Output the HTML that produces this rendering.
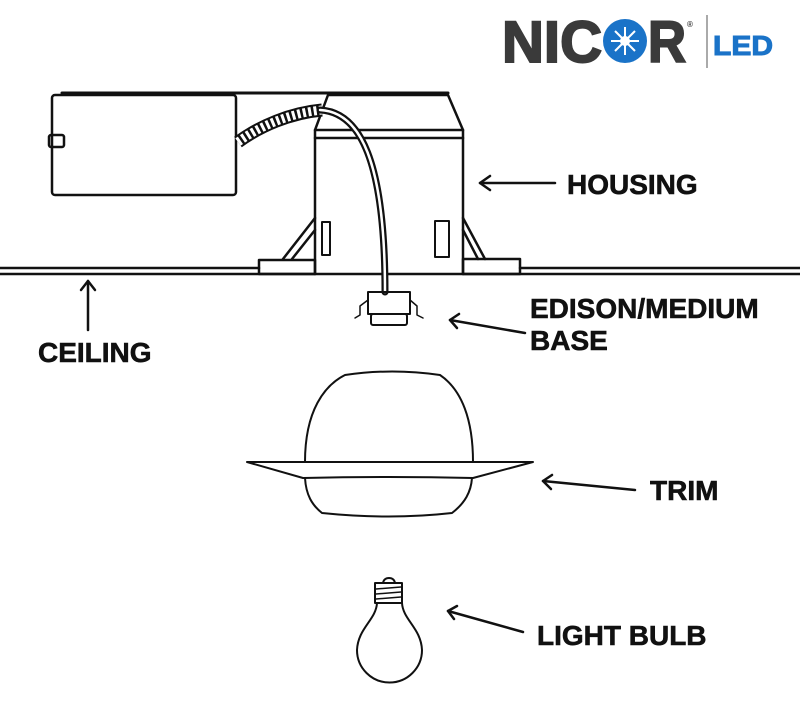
<!DOCTYPE html>
<html><head><style>
html,body{margin:0;padding:0;background:#fff;}
svg{display:block;}
text{font-family:"Liberation Sans",Arial,sans-serif;font-weight:bold;}
</style></head><body>
<svg width="800" height="725" viewBox="0 0 800 725" xmlns="http://www.w3.org/2000/svg">
<g fill="none" stroke="#111" stroke-width="2.5" stroke-linejoin="round" stroke-linecap="round">
<line x1="0" y1="268" x2="259" y2="268"/><line x1="0" y1="274" x2="800" y2="274"/>
<line x1="520" y1="268" x2="800" y2="268"/>
<rect x="52" y="95" width="184" height="100" rx="3"/>
<rect x="49" y="135" width="15" height="12" rx="2"/>
<line x1="62" y1="93" x2="448" y2="93" stroke-width="3"/>
<polyline points="315,274 315,130 328,95 448,95 463,130 463,274"/>
<line x1="315" y1="138" x2="463" y2="138"/>
<line x1="315" y1="130" x2="463" y2="130"/>
<rect x="259" y="260" width="56" height="14"/>
<rect x="463" y="259" width="57" height="15"/>
<polyline points="283,259 315,218"/><polyline points="292,259 315,230"/>
<polyline points="463,218 485,259"/><polyline points="463,230 478,259"/>
<rect x="322" y="222" width="8" height="33" stroke-width="2"/>
<rect x="435" y="221" width="14" height="36" stroke-width="2"/>
<path d="M238,142 C260,126 290,113 322,110" stroke-width="13" stroke-linecap="butt"/>
<path d="M238,142 C260,126 290,113 322,110" stroke="#fff" stroke-width="9" stroke-dasharray="3 2.5" stroke-linecap="butt"/>
<path d="M320,110 C360,112 385,160 385,292" stroke-width="7"/>
<path d="M320,110 C360,112 385,160 385,292" stroke="#fff" stroke-width="2.5"/>
<rect x="368" y="292" width="42" height="22" stroke-width="2"/>
<rect x="371" y="314" width="36" height="11" rx="2" stroke-width="2"/>
<path d="M368,300 L360,306 L360,315 L355,318" stroke-width="1.5"/>
<path d="M410,300 L417,306 L417,315 L423,318" stroke-width="1.5"/>
<path d="M305,462 C305,410 325,385 345,375 Q392,368 440,375 C462,390 473,420 473,462" stroke-width="2"/>
<path d="M247,462 L533,462 L473,478 Q390,476 303,478 Z" stroke-width="2"/>
<path d="M305,478 C306,495 312,505 322,513 Q390,520 452,513 C465,503 471,492 472,478" stroke-width="2"/>
<path d="M383,583 Q384,578 389,578 Q394,578 395,583" stroke-width="2"/>
<rect x="375" y="583" width="27" height="20" stroke-width="2"/>
<line x1="376" y1="589" x2="401" y2="587" stroke-width="1.5"/><line x1="376" y1="594" x2="401" y2="592" stroke-width="1.5"/><line x1="376" y1="599" x2="401" y2="597" stroke-width="1.5"/>
<path d="M377,603 C376,620 358,628 357,650 A31,31 0 0 0 422,650 C421,628 403,620 402,603" stroke-width="2"/>
<line x1="555" y1="183" x2="480" y2="183"/><polyline points="490,176 480,183 490,190"/>
<line x1="525" y1="333" x2="450" y2="320"/><polyline points="459,314 450,320 457,328"/>
<line x1="635" y1="490" x2="543" y2="481"/><polyline points="552,475 543,481 551,489"/>
<line x1="523" y1="632" x2="448" y2="611"/><polyline points="457,606 448,611 454,619"/>
<line x1="88" y1="330" x2="88" y2="281"/><polyline points="81,290 88,281 95,290"/>
</g>
<g fill="#111" stroke="#111" stroke-width="0.6" font-size="28">
<text x="567" y="194">HOUSING</text>
<text x="530" y="318">EDISON/MEDIUM</text>
<text x="530" y="350">BASE</text>
<text x="38" y="362">CEILING</text>
<text x="650" y="500">TRIM</text>
<text x="537" y="645">LIGHT BULB</text>
</g>
<g>
<text x="502" y="62" font-size="58" fill="#3a3a3a" stroke="#3a3a3a" stroke-width="2" textLength="100" lengthAdjust="spacingAndGlyphs">NIC</text>
<circle cx="625" cy="41" r="22" fill="#1a73c8"/>
<g stroke="#fff" stroke-width="2">
<line x1="611" y1="41" x2="639" y2="41"/><line x1="625" y1="27" x2="625" y2="55"/>
<line x1="615" y1="31" x2="635" y2="51"/><line x1="635" y1="31" x2="615" y2="51"/>
</g>
<circle cx="625" cy="41" r="5" fill="#fff"/>
<text x="648" y="62" font-size="58" fill="#3a3a3a" stroke="#3a3a3a" stroke-width="2" textLength="38" lengthAdjust="spacingAndGlyphs">R</text>
<text x="687" y="27" font-size="8" fill="#3a3a3a" font-weight="normal">®</text>
<line x1="707" y1="15" x2="707" y2="68" stroke="#555" stroke-width="1"/>
<text x="713" y="55" font-size="28" fill="#1a73c8" stroke="#1a73c8" stroke-width="1" textLength="60" lengthAdjust="spacingAndGlyphs">LED</text>
</g>
</svg>
</body></html>
